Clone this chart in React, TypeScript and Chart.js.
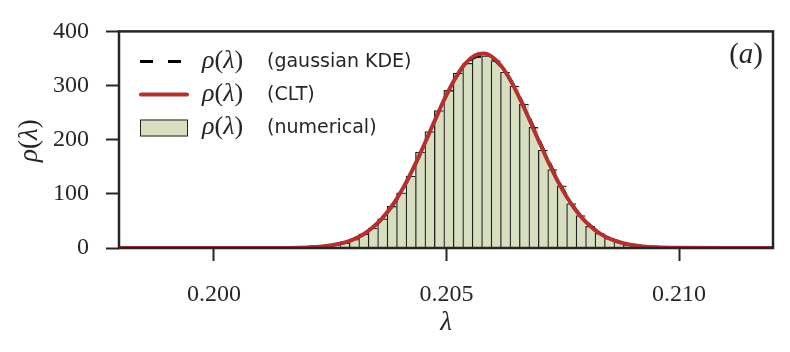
import React, { useEffect, useRef } from "react";
import { Chart, registerables } from "chart.js";

Chart.register(...registerables);

// ---- data ----
const binCenters = [
  0.202809, 0.203013, 0.203216, 0.203419, 0.203622, 0.203825, 0.204028, 0.204232,
  0.204435, 0.204638, 0.204841, 0.205044, 0.205247, 0.205451, 0.205654, 0.205857,
  0.20606, 0.206263, 0.206466, 0.206669, 0.206873, 0.207076, 0.207279, 0.207482,
  0.207685, 0.207888, 0.208092, 0.208295, 0.208498, 0.208701, 0.208904,
];
const binDensity = [
  9, 16, 26, 37, 54, 77, 102, 133, 177, 215, 254, 291, 323, 341, 353, 355,
  346, 325, 299, 266, 223, 181, 145, 115, 82, 60, 40, 27, 18, 12, 6,
];
const curveX = [
  0.1979, 0.2, 0.201, 0.202, 0.2025, 0.2028, 0.203, 0.2032, 0.2034, 0.2036, 0.2038,
  0.204, 0.2042, 0.2044, 0.2046, 0.2048, 0.205, 0.2052, 0.2054, 0.2056, 0.2058,
  0.206, 0.2062, 0.2064, 0.2066, 0.2068, 0.207, 0.2072, 0.2074, 0.2076, 0.2078,
  0.208, 0.2082, 0.2084, 0.2086, 0.2088, 0.209, 0.2095, 0.21, 0.211, 0.2121,
];
const cltDensity = [
  0, 0, 0.04, 1.1, 4.7, 10.0, 16.0, 24.7, 36.8, 53.2, 74.4,
  100.7, 132.2, 167.8, 206.2, 245.3, 282.6, 315.0, 340.0, 355.2, 359.3,
  351.8, 333.5, 305.9, 271.8, 233.7, 194.6, 156.8, 122.3, 92.3, 67.5,
  47.8, 32.7, 21.7, 13.9, 8.7, 5.2, 1.3, 0.25, 0, 0,
];
const kdeDensity = [
  0, 0, 0.1, 1.3, 5, 10.5, 16, 24, 36, 52, 73,
  99, 131, 167, 206, 245, 282, 314, 338, 352, 356,
  349, 333, 307, 274, 237, 198, 160, 125, 94, 69,
  49, 34, 22.5, 14.5, 9, 5.5, 1.4, 0.3, 0, 0,
];
const xTickValues = [0.2, 0.205, 0.21];
const yTickStep = 100;
const xMin = 0.19796;
const xMax = 0.21202;
const yMin = 0;
const yMax = 400;

// ---- text ----
const mathRho: [string, boolean][] = [["ρ", true], ["(", false], ["λ", true], [")", false]];
const mathLambda: [string, boolean][] = [["λ", true]];
const panelTag: [string, boolean][] = [["(", false], ["a", true], [")", false]];
const legendLabels = ["(gaussian KDE)", "(CLT)", "(numerical)"];

// ---- style ----
const INK = "#262626";
const RED = "#b3312f";
const FILL = "#d8dfc0";
const BAR_EDGE = "#222222";
const SERIF = '"Liberation Serif", serif';
const SANS = '"DejaVu Sans", sans-serif';

function segWidth(ctx: CanvasRenderingContext2D, parts: [string, boolean][], size: number) {
  let w = 0;
  for (const [t, it] of parts) {
    ctx.font = `${it ? "italic " : ""}${size}px ${SERIF}`;
    w += ctx.measureText(t).width;
  }
  return w;
}
function drawSeg(ctx: CanvasRenderingContext2D, parts: [string, boolean][], x: number, y: number, size: number) {
  let cx = x;
  for (const [t, it] of parts) {
    ctx.font = `${it ? "italic " : ""}${size}px ${SERIF}`;
    ctx.fillText(t, cx, y);
    cx += ctx.measureText(t).width;
  }
  return cx - x;
}

const decorations = {
  id: "decorations",
  afterDraw(chart: any) {
    const ctx: CanvasRenderingContext2D = chart.ctx;
    const a = chart.chartArea;
    ctx.save();
    // frame
    ctx.strokeStyle = INK;
    ctx.lineWidth = 2.5;
    ctx.setLineDash([]);
    ctx.strokeRect(a.left, a.top, a.right - a.left, a.bottom - a.top);

    ctx.fillStyle = INK;
    ctx.textBaseline = "middle";
    ctx.textAlign = "left";

    // y title
    const mSize = 27;
    const wr = segWidth(ctx, mathRho, mSize);
    ctx.save();
    ctx.translate(29.5, (a.top + a.bottom) / 2 + 1);
    ctx.rotate(-Math.PI / 2);
    drawSeg(ctx, mathRho, -wr / 2, 0, mSize);
    ctx.restore();

    // x title
    const wl = segWidth(ctx, mathLambda, mSize);
    drawSeg(ctx, mathLambda, (a.left + a.right) / 2 - wl / 2, 323, mSize);

    // panel tag
    const wt = segWidth(ctx, panelTag, 29);
    drawSeg(ctx, panelTag, 763 - wt, 55, 29);

    // legend
    const rows = [61.5, 94.5, 127.5];
    const hx0 = 140, hx1 = 188;
    // KDE handle
    ctx.strokeStyle = "#000";
    ctx.lineWidth = 3;
    ctx.setLineDash([13, 15]);
    ctx.beginPath();
    ctx.moveTo(hx0, rows[0]);
    ctx.lineTo(hx1, rows[0]);
    ctx.stroke();
    ctx.setLineDash([]);
    // CLT handle
    ctx.strokeStyle = RED;
    ctx.lineWidth = 4;
    ctx.lineCap = "round";
    ctx.beginPath();
    ctx.moveTo(hx0 + 1, rows[1]);
    ctx.lineTo(hx1 - 1, rows[1]);
    ctx.stroke();
    ctx.lineCap = "butt";
    // hist handle
    ctx.fillStyle = FILL;
    ctx.fillRect(hx0, rows[2] - 8, hx1 - hx0, 17);
    ctx.strokeStyle = BAR_EDGE;
    ctx.lineWidth = 1;
    ctx.strokeRect(hx0 + 0.5, rows[2] - 7.5, hx1 - hx0 - 1, 16);

    ctx.fillStyle = INK;
    rows.forEach((ry, i) => {
      drawSeg(ctx, mathRho, 202, ry, 26);
      ctx.font = `19px ${SANS}`;
      ctx.fillText(legendLabels[i], 267, ry + 1);
    });
    ctx.restore();
  },
};

export default function App() {
  const ref = useRef<HTMLCanvasElement | null>(null);
  useEffect(() => {
    if (!ref.current) return;
    const chart = new Chart(ref.current, {
      type: "bar",
      data: {
        datasets: [
          {
            type: "line",
            label: "KDE",
            data: curveX.map((x, i) => ({ x, y: kdeDensity[i] })),
            borderColor: "#000",
            borderWidth: 3,
            borderDash: [12, 12],
            pointRadius: 0,
            cubicInterpolationMode: "monotone",
            order: 1,
          } as any,
          {
            type: "line",
            label: "CLT",
            data: curveX.map((x, i) => ({ x, y: cltDensity[i] })),
            borderColor: RED,
            borderWidth: 4,
            pointRadius: 0,
            cubicInterpolationMode: "monotone",
            order: 0,
          } as any,
          {
            type: "bar",
            label: "numerical",
            data: binCenters.map((x, i) => ({ x, y: binDensity[i] })),
            backgroundColor: FILL,
            borderColor: BAR_EDGE,
            borderWidth: { left: 1.3, top: 1.3, right: 0, bottom: 0 },
            borderSkipped: false,
            barPercentage: 1,
            categoryPercentage: 1,
            grouped: false,
            order: 2,
          } as any,
        ],
      },
      options: {
        responsive: false,
        animation: false,
        devicePixelRatio: 1,
        layout: { padding: { left: 0, top: 27, right: 17, bottom: 0 } },
        plugins: { legend: { display: false }, tooltip: { enabled: false } },
        scales: {
          x: {
            type: "linear",
            min: xMin,
            max: xMax,
            offset: false,
            grid: {
              offset: false,
              drawOnChartArea: false,
              drawTicks: true,
              tickLength: 13,
              tickWidth: 2,
              tickColor: INK,
            },
            border: { display: false },
            ticks: {
              color: INK,
              font: { family: SERIF, size: 24 },
              padding: 19,
              maxRotation: 0,
              callback: (v: any) => Number(v).toFixed(3),
            },
            afterBuildTicks: (s: any) => {
              s.ticks = xTickValues.map((v) => ({ value: v }));
            },
            afterFit: (s: any) => {
              s.height = 104;
            },
          },
          y: {
            min: yMin,
            max: yMax,
            grid: {
              drawOnChartArea: false,
              drawTicks: true,
              tickLength: 13,
              tickWidth: 2,
              tickColor: INK,
            },
            border: { display: false },
            ticks: {
              stepSize: yTickStep,
              color: INK,
              font: { family: SERIF, size: 24 },
              padding: 17,
            },
            afterFit: (s: any) => {
              s.width = 119;
            },
          },
        },
      },
      plugins: [decorations],
    });
    return () => chart.destroy();
  }, []);
  return (
    <div style={{ position: "fixed", left: 0, top: 0, width: 790, height: 352, background: "#fff" }}>
      <canvas ref={ref} width={790} height={352} style={{ display: "block", width: 790, height: 352 }} />
    </div>
  );
}
